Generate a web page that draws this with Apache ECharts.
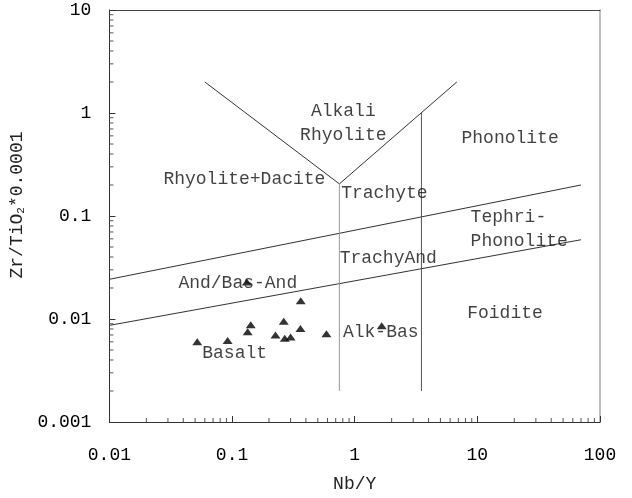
<!DOCTYPE html>
<html><head><meta charset="utf-8">
<script src="https://cdn.jsdelivr.net/npm/echarts@6/dist/echarts.min.js"></script>
<style>html,body{margin:0;padding:0;background:#fff}#c{width:632px;height:498px}</style>
</head><body><div id="c"></div>
<script>
// Sample points (Nb/Y, Zr/TiO2*0.0001)
const nbY    = [0.052, 0.092, 0.142, 0.134, 0.264, 0.361, 0.363, 0.226, 0.269, 0.300, 0.588, 1.66, 0.132];
const zrTiO2 = [0.0060, 0.0062, 0.0088, 0.0075, 0.0095, 0.0081, 0.0150, 0.0070, 0.0065, 0.0067, 0.0072, 0.0086, 0.0229];

// Field boundaries
const upperLine = [[0.01, 0.0243], [70, 0.2]];
const lowerLine = [[0.01, 0.00867], [70, 0.0588]];
const vLeftArm  = [[0.06, 2.0], [0.75, 0.205]];
const vRightArm = [[0.75, 0.205], [6.8, 2.0]];
const vert1     = [[0.75, 0.205], [0.75, 0.002]];
const vert2     = [[3.5, 1.0], [3.5, 0.002]];

// Field names and anchor points
const fieldNames = ['Alkali\nRhyolite', 'Rhyolite+Dacite', 'Trachyte', 'Phonolite', 'Tephri-\nPhonolite', 'TrachyAnd', 'And/Bas-And', 'Alk-Bas', 'Basalt', 'Foidite'];
const fieldX = [0.807, 0.577, 0.776, 18.5, 8.81, 0.754, 0.1114, 0.802, 0.105, 16.8];
const fieldY = [0.802, 0.230, 0.166, 0.571, 0.0744, 0.0388, 0.0224, 0.0075, 0.00462, 0.01125];
const fieldAnchor = ['center', 'right', 'left', 'center', 'left', 'left', 'center', 'left', 'center', 'center'];

const xMin = 0.01, xMax = 100, yMin = 0.001, yMax = 10;
const decadesX = [0.01, 0.1, 1, 10];
const decadesY = [0.001, 0.01, 0.1, 1];
const minorMult = [2, 3, 4, 5, 6, 7, 8, 9];

const FONT = "'Liberation Mono', 'DejaVu Sans Mono', monospace";

const minorXData = [];
decadesX.forEach(d => minorMult.forEach(m => minorXData.push([d * m, yMin])));
const minorYData = [];
decadesY.forEach(d => minorMult.forEach(m => minorYData.push([xMin, d * m])));

function lineSeries(data, color) {
  return {
    type: 'line', data: data, showSymbol: false, symbol: 'none', silent: true,
    lineStyle: { color: color || '#333', width: 1 }, z: 2, animation: false
  };
}

const chart = echarts.init(document.getElementById('c'), null, { renderer: 'canvas' });
chart.setOption({
  animation: false,
  backgroundColor: '#fff',
  grid: { left: 107, right: 32, top: 10, bottom: 74, containLabel: false },
  xAxis: [{
    type: 'log', logBase: 10, min: xMin, max: xMax, position: 'bottom',
    name: 'Nb/Y', nameLocation: 'middle', nameGap: 53,
    nameTextStyle: { fontFamily: FONT, fontSize: 18, color: '#222' },
    axisLine: { show: true, lineStyle: { color: '#333', width: 1 } },
    axisTick: { show: true, inside: true, length: 6, lineStyle: { color: '#333' } },
    axisLabel: { fontFamily: FONT, fontSize: 18, color: '#000', margin: 24 },
    splitLine: { show: false }
  }, {
    type: 'log', logBase: 10, min: xMin, max: xMax, position: 'top',
    axisLine: { show: true, lineStyle: { color: '#444', width: 1 } },
    axisTick: { show: false }, axisLabel: { show: false }, splitLine: { show: false }
  }],
  yAxis: [{
    type: 'log', logBase: 10, min: yMin, max: yMax, position: 'left',
    name: 'Zr/TiO{sub|2}*0.0001', nameLocation: 'middle', nameGap: 78, nameRotate: 90,
    nameTextStyle: { fontFamily: FONT, fontSize: 18, color: '#222', padding: [0, 0, 0, 22],
      rich: { sub: { fontFamily: FONT, fontSize: 11, color: '#222', verticalAlign: 'bottom', padding: [8, 0, 0, 0] } } },
    axisLine: { show: true, lineStyle: { color: '#333', width: 1 } },
    axisTick: { show: true, inside: true, length: 6, lineStyle: { color: '#333' } },
    axisLabel: { fontFamily: FONT, fontSize: 18, color: '#000', margin: 18 },
    splitLine: { show: false }
  }, {
    type: 'log', logBase: 10, min: yMin, max: yMax, position: 'right',
    axisLine: { show: true, lineStyle: { color: '#aaa', width: 1.5 } },
    axisTick: { show: false }, axisLabel: { show: false }, splitLine: { show: false }
  }],
  series: [
    lineSeries(upperLine), lineSeries(lowerLine),
    lineSeries(vLeftArm), lineSeries(vRightArm),
    lineSeries(vert1, '#999'), lineSeries(vert2, '#555'),
    {
      type: 'custom', silent: true, clip: false, data: minorXData, encode: { x: 0, y: 1 },
      renderItem: (params, api) => {
        const p = api.coord([api.value(0), api.value(1)]);
        return { type: 'line', shape: { x1: p[0], y1: p[1], x2: p[0], y2: p[1] - 4 }, style: { stroke: '#555', lineWidth: 1 } };
      }
    },
    {
      type: 'custom', silent: true, clip: false, data: minorYData, encode: { x: 0, y: 1 },
      renderItem: (params, api) => {
        const p = api.coord([api.value(0), api.value(1)]);
        return { type: 'line', shape: { x1: p[0], y1: p[1], x2: p[0] + 4, y2: p[1] }, style: { stroke: '#555', lineWidth: 1 } };
      }
    },
    {
      type: 'scatter', symbol: 'triangle', symbolSize: [10, 7], z: 4,
      itemStyle: { color: '#000' },
      data: nbY.map((x, i) => [x, zrTiO2[i]])
    },
    {
      type: 'scatter', symbolSize: 0, silent: true, z: 5,
      data: fieldNames.map((n, i) => ({
        value: [fieldX[i], fieldY[i]],
        label: { show: true, position: 'inside', formatter: n, align: fieldAnchor[i], verticalAlign: 'middle',
          fontFamily: FONT, fontSize: 18, color: '#111', lineHeight: 24 }
      }))
    }
  ]
});
</script></body></html>
